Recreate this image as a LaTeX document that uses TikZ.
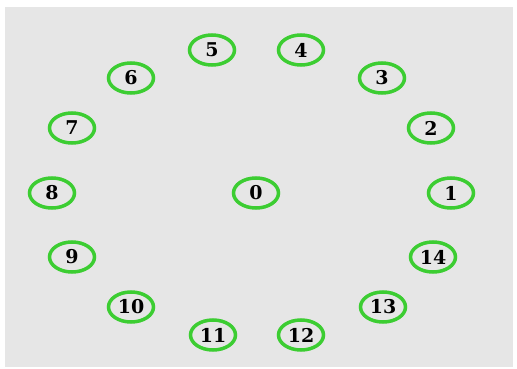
\documentclass[tikz,border=0pt]{standalone}
\usepackage{fontspec}
\setmainfont{DejaVu Serif}
\usepackage{xcolor}
\usepackage{tikz}
\usetikzlibrary{shapes.geometric}

\definecolor{ringgreen}{RGB}{60,205,50}
\definecolor{panelgray}{RGB}{230,230,230}

\begin{document}
\begin{tikzpicture}[x=1pt,y=-1pt,
  ring/.style={ellipse,draw=ringgreen,line width=3.5pt,minimum width=45pt,minimum height=30pt,inner sep=0pt,
    font=\fontsize{19}{19}\selectfont\bfseries}]
\useasboundingbox (0,0) rectangle (517,369);
\fill[white] (0,0) rectangle (517,369);
\fill[panelgray] (5,7) rectangle (513,367);
\node[ring] (n0) at (256,193) {0};
\foreach \n/\x/\y in {1/451/193, 2/431/128, 3/382/78, 4/301/50, 5/212/50, 6/131/78, 7/72/128,
    8/52/193, 9/72/257, 10/131/307, 11/213/335, 12/301/335, 13/383/307, 14/433/257}
  \node[ring] (n\n) at (\x,\y) {\n};
\end{tikzpicture}
\end{document}
